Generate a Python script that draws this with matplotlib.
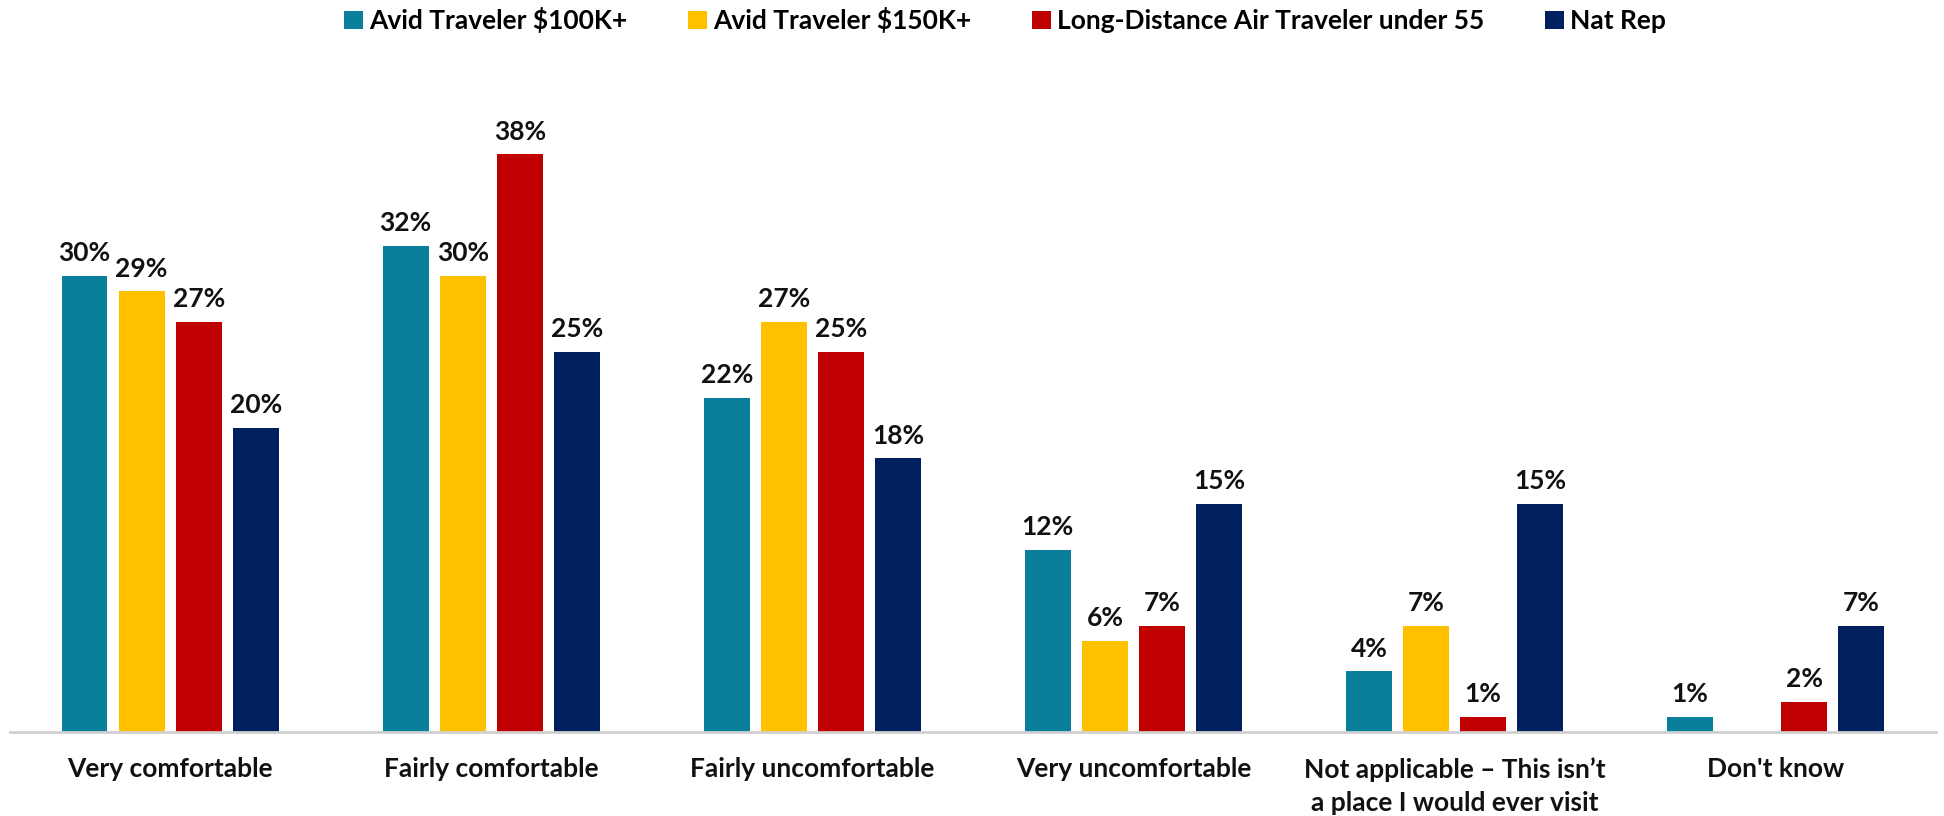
import matplotlib.pyplot as plt
import numpy as np

categories = ["Very comfortable", "Fairly comfortable", "Fairly uncomfortable",
              "Very uncomfortable", "Not applicable \u2013 This isn\u2019t\na place I would ever visit",
              "Don't know"]
series_names = ["Avid Traveler $100K+", "Avid Traveler $150K+",
                "Long-Distance Air Traveler under 55", "Nat Rep"]
avid_100k = [30, 32, 22, 12, 4, 1]
avid_150k = [29, 30, 27, 6, 7, None]
long_distance = [27, 38, 25, 7, 1, 2]
nat_rep = [20, 25, 18, 15, 15, 7]
colors = ["#0A7F9C", "#FFC000", "#C00000", "#002060"]

plt.rcParams['font.family'] = ['Lato', 'DejaVu Sans']

fig = plt.figure(figsize=(19.44, 8.16), dpi=100)
ax = fig.add_axes([0.005, 0.103, 0.991, 0.745])

x = np.arange(len(categories))
width = 0.143
step = 0.178
all_series = [avid_100k, avid_150k, long_distance, nat_rep]
handles = []
for i, (vals, name, c) in enumerate(zip(all_series, series_names, colors)):
    pos = x + (i - 1.5) * step
    h = [v if v is not None else 0 for v in vals]
    bars = ax.bar(pos, h, width, color=c, label=name)
    handles.append(bars)
    for p, v in zip(pos, vals):
        if v is None:
            continue
        ax.text(p, v + 0.7, f"{v}%", ha='center', va='bottom',
                fontsize=19, fontweight='bold', color='#111111')

ax.set_xlim(-0.5, 5.5)
ax.set_ylim(0, 40)
ax.set_yticks([])
ax.set_xticks(x)
ax.set_xticklabels(categories, fontsize=19, fontweight='bold', color='#111111',
                   va='top', linespacing=1.45)
ax.tick_params(axis='x', length=0, pad=18)
for s in ['top', 'right', 'left']:
    ax.spines[s].set_visible(False)
ax.spines['bottom'].set_color('#D0D0D0')
ax.spines['bottom'].set_linewidth(2)

fig.legend(handles=handles, loc='upper center', bbox_to_anchor=(0.517, 1.02),
           ncol=4, frameon=False, handlelength=0.7, handleheight=0.7,
           handletextpad=0.25, columnspacing=2.3, prop={'weight': 'bold', 'size': 19})

fig.savefig("out.png", dpi=100)
